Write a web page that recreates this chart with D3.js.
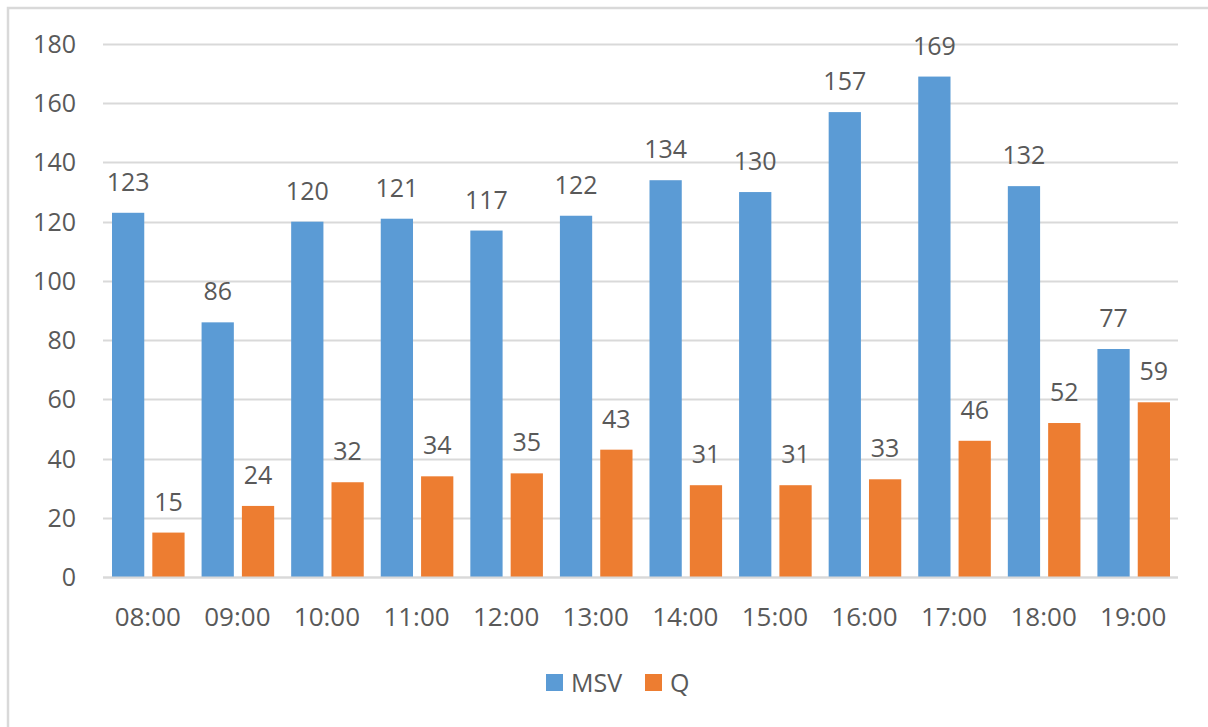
<!DOCTYPE html>
<html>
<head>
<meta charset="utf-8">
<script src="https://cdn.jsdelivr.net/npm/d3@7"></script>
<style>
  html, body { margin: 0; padding: 0; background: #fff; }
  svg { display: block; }
  text { font-family: "Open Sans", "Noto Sans", sans-serif; fill: #595959; }
</style>
</head>
<body>
<svg id="chart" width="1208" height="727"></svg>
<script>
// Hourly counts
const categories = ["08:00","09:00","10:00","11:00","12:00","13:00","14:00","15:00","16:00","17:00","18:00","19:00"];
const msv = [123, 86, 120, 121, 117, 122, 134, 130, 157, 169, 132, 77];
const q   = [15, 24, 32, 34, 35, 43, 31, 31, 33, 46, 52, 59];
const seriesNames = ["MSV", "Q"];
const yTicks = [0, 20, 40, 60, 80, 100, 120, 140, 160, 180];

const colors = { MSV: "#5B9BD5", Q: "#ED7D31" };

const svg = d3.select("#chart");

// Outer frame
svg.append("rect")
  .attr("x", 8).attr("y", 8)
  .attr("width", 1250).attr("height", 800)
  .attr("fill", "none")
  .attr("stroke", "#d9d9d9")
  .attr("stroke-width", 2.5);

const plot = { left: 103, right: 1178, top: 44, bottom: 577 };

const x = d3.scaleBand()
  .domain(categories)
  .range([plot.left, plot.right])
  .paddingInner(0)
  .paddingOuter(0);

const inner = d3.scaleBand()
  .domain(seriesNames)
  .range([9, x.bandwidth() - 8])
  .paddingInner(0.2);

const y = d3.scaleLinear()
  .domain([0, 180])
  .range([plot.bottom, plot.top]);

// Gridlines
svg.append("g")
  .selectAll("line")
  .data(yTicks)
  .join("line")
  .attr("x1", plot.left).attr("x2", plot.right)
  .attr("y1", d => Math.round(y(d)) + 0.5)
  .attr("y2", d => Math.round(y(d)) + 0.5)
  .attr("stroke", "#d9d9d9")
  .attr("stroke-width", 2);

// Y tick labels
svg.append("g")
  .selectAll("text")
  .data(yTicks)
  .join("text")
  .attr("x", 76)
  .attr("y", d => y(d))
  .attr("dy", "0.36em")
  .attr("text-anchor", "end")
  .attr("font-size", 25)
  .text(d => d);

const rows = categories.map((c, i) => ({ cat: c, MSV: msv[i], Q: q[i] }));

const groups = svg.append("g")
  .selectAll("g")
  .data(rows)
  .join("g")
  .attr("transform", d => `translate(${x(d.cat)},0)`);

const bars = groups.selectAll("g.bar")
  .data(d => seriesNames.map(s => ({ s, v: d[s] })))
  .join("g").attr("class", "bar");

bars.append("rect")
  .attr("x", d => inner(d.s))
  .attr("width", inner.bandwidth())
  .attr("y", d => y(d.v))
  .attr("height", d => y(0) - y(d.v))
  .attr("fill", d => colors[d.s]);

bars.append("text")
  .attr("x", d => inner(d.s) + inner.bandwidth() / 2)
  .attr("y", d => y(d.v) - 22)
  .attr("text-anchor", "middle")
  .attr("font-size", 25)
  .text(d => d.v);

// Axis line drawn over the bar bases
svg.append("line")
  .attr("x1", plot.left).attr("x2", plot.right)
  .attr("y1", Math.round(y(0)) + 0.5).attr("y2", Math.round(y(0)) + 0.5)
  .attr("stroke", "#d9d9d9")
  .attr("stroke-width", 2);

// Category labels
svg.append("g")
  .selectAll("text")
  .data(categories)
  .join("text")
  .attr("x", d => x(d) + x.bandwidth() / 2)
  .attr("y", 626)
  .attr("text-anchor", "middle")
  .attr("font-size", 26)
  .text(d => d);

// Legend
const legendItems = [
  { s: "MSV", x: 546 },
  { s: "Q", x: 645 }
];
const legend = svg.append("g");
legendItems.forEach(it => {
  legend.append("rect")
    .attr("x", it.x).attr("y", 674)
    .attr("width", 17).attr("height", 17)
    .attr("fill", colors[it.s]);
  legend.append("text")
    .attr("x", it.x + 25).attr("y", 682.5)
    .attr("dy", "0.36em")
    .attr("font-size", 25)
    .text(it.s);
});
</script>
</body>
</html>
